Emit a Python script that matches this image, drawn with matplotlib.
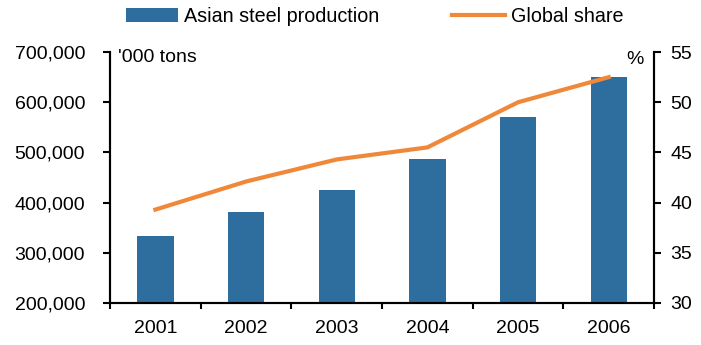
import matplotlib.pyplot as plt
import numpy as np
from matplotlib.ticker import FuncFormatter

plt.rcParams['font.family'] = ['Liberation Sans', 'DejaVu Sans']
plt.rcParams['font.size'] = 14

years = ['2001', '2002', '2003', '2004', '2005', '2006']
production = [334000, 382000, 426000, 486000, 570000, 650000]  # '000 tons
global_share = [39.3, 42.1, 44.3, 45.5, 50.0, 52.5]  # %

bar_color = '#2E6E9E'
line_color = '#F0883A'

fig = plt.figure(figsize=(7.01, 3.45), dpi=100)
ax = fig.add_axes([0.157, 0.122, 0.776, 0.727])
x = np.arange(len(years))

ax.bar(x, production, width=0.4, color=bar_color, label='Asian steel production', zorder=2)
ax.set_ylim(200000, 700000)
ax.set_yticks(np.arange(200000, 700001, 100000))
ax.yaxis.set_major_formatter(FuncFormatter(lambda v, p: f'{int(v):,}'))
ax.set_xlim(-0.5, len(years) - 0.5)
ax.set_xticks(x)
ax.set_xticklabels(years)
ax.set_xticks(np.arange(-0.5, len(years), 1), minor=True)
ax.tick_params(axis='x', which='major', length=0, pad=12)
ax.tick_params(axis='x', which='minor', length=4, width=1.5, direction='out')
ax.tick_params(axis='y', length=5, width=1.5, direction='out', pad=13)

ax2 = ax.twinx()
ax2.plot(x, global_share, color=line_color, lw=3, label='Global share', zorder=3)
ax2.set_ylim(30, 55)
ax2.set_yticks(np.arange(30, 56, 5))
ax2.tick_params(axis='y', length=5, width=1.5, direction='out', pad=7)

for a in (ax, ax2):
    a.spines['top'].set_visible(False)
    for s in ('left', 'right', 'bottom'):
        a.spines[s].set_linewidth(1.5)

# unit labels just inside the top corners of the plot area
fig.text(118 / 701, 1 - 57 / 345, "'000 tons", ha='left', va='center')
fig.text(635 / 701, 1 - 59 / 345, '%', ha='center', va='center')

h1, l1 = ax.get_legend_handles_labels()
h2, l2 = ax2.get_legend_handles_labels()
fig.legend(h1 + h2, l1 + l2, loc='center left', bbox_to_anchor=(126 / 701, 1 - 16 / 345),
           ncol=2, frameon=False, borderpad=0, borderaxespad=0,
           handlelength=2.65, handleheight=0.72, columnspacing=3.7, handletextpad=0.3,
           fontsize=14.2)

fig.savefig('out.png', dpi=100)
